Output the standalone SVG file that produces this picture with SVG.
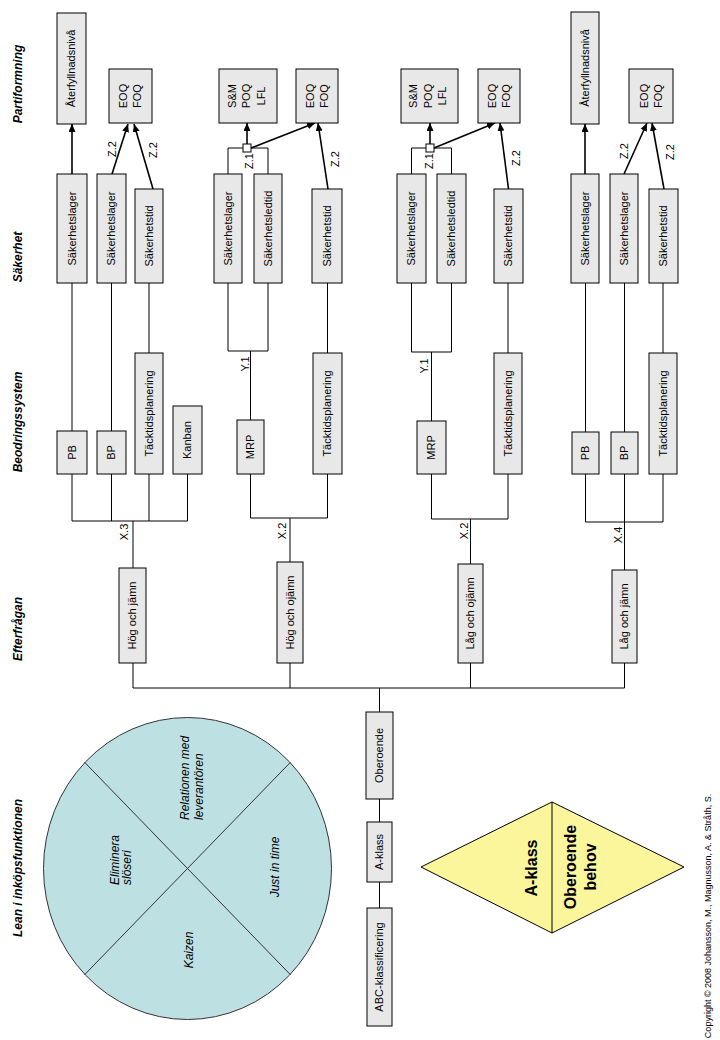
<svg xmlns="http://www.w3.org/2000/svg" width="720" height="1040" viewBox="0 0 720 1040">
<style>
text{font-family:"Liberation Sans",Arial,sans-serif;font-size:11px;fill:#000}
.box{fill:#e8e8e8;stroke:#000;stroke-width:1}
.ln{stroke:#000;stroke-width:1;fill:none}
.ar{stroke:#000;stroke-width:1.6;fill:none;marker-end:url(#ah)}
.hd{font-weight:bold;font-style:italic;font-size:12px}
.c{text-anchor:middle}
.it{font-style:italic;font-size:12px}
.big{font-weight:bold;font-size:16px;text-anchor:middle}
</style>
<defs>
<marker id="ah" markerUnits="userSpaceOnUse" markerWidth="9" markerHeight="7" refX="8" refY="3.5" orient="auto">
<path d="M0,0 L8,3.5 L0,7 z" fill="#000"/>
</marker>
</defs>
<rect width="720" height="1040" fill="#fff"/>

<g id="headers">
<text class="hd c" transform="translate(18,84) rotate(-90)" dy=".35em">Partiformning</text>
<text class="hd c" transform="translate(18,257) rotate(-90)" dy=".35em">Säkerhet</text>
<text class="hd c" transform="translate(18,422) rotate(-90)" dy=".35em">Beodringssystem</text>
<text class="hd c" transform="translate(18,629) rotate(-90)" dy=".35em">Efterfrågan</text>
<text class="hd c" transform="translate(18,868) rotate(-90)" dy=".35em">Lean i inköpsfunktionen</text>
</g>

<g id="connectors">
<!-- group 1 -->
<path class="ln" d="M72,283V431 M111.5,283V431 M149,283V353"/>
<path class="ln" d="M72,474V521 M111.5,474V521 M149,474V521 M187.5,474V521 M72,521H187.5 M133,521V568 M133,663V688"/>
<path class="ar" d="M72,174L72,124"/>
<path class="ar" d="M112,174L128,124"/>
<path class="ar" d="M153,189L134,124"/>
<!-- group 2 -->
<path class="ln" d="M228,283V351 M268,283V351 M228,351H268 M250.5,351V420 M327.5,283V353"/>
<path class="ln" d="M250.5,474V518 M327.5,474V518 M250.5,518H327.5 M290,518V562 M290,663V688"/>
<path class="ln" d="M228,174V148H268V174"/>
<path class="ar" d="M247,144L247,123"/>
<path class="ar" d="M251,148L315,123"/>
<path class="ar" d="M328,189L318,123"/>
<rect x="243" y="144" width="8" height="8" fill="#fff" stroke="#000"/>
<!-- group 3 -->
<path class="ln" d="M411.5,283V352 M451.5,283V352 M411.5,352H451.5 M431.5,352V421 M508,283V353"/>
<path class="ln" d="M431.5,474V519 M508,474V519 M431.5,519H508 M470.5,519V564 M470.5,663V688"/>
<path class="ln" d="M411.5,174V148H451.5V174"/>
<path class="ar" d="M430,144L430,123"/>
<path class="ar" d="M434,148L495,123"/>
<path class="ar" d="M508.5,189L500,123"/>
<rect x="426" y="144" width="8" height="8" fill="#fff" stroke="#000"/>
<!-- group 4 -->
<path class="ln" d="M585.5,283V432 M624.5,283V432 M663,283V353"/>
<path class="ln" d="M585.5,474V522 M624.5,474V522 M663,474V522 M585.5,522H663 M624.5,522V570 M624.5,663V688"/>
<path class="ar" d="M585,174L585,124"/>
<path class="ar" d="M624,174L647,123"/>
<path class="ar" d="M664,189L652,123"/>
<!-- trunk -->
<path class="ln" d="M133,688H624.5 M379.5,688V712 M379.5,799V822 M379.5,882V908"/>
</g>

<g id="connector-labels">
<text class="c" transform="translate(112,149) rotate(-90)" dy=".35em">Z.2</text>
<text class="c" transform="translate(153,150) rotate(-90)" dy=".35em">Z.2</text>
<text class="c" transform="translate(249,161) rotate(-90)" dy=".35em">Z.1</text>
<text class="c" transform="translate(335,159) rotate(-90)" dy=".35em">Z.2</text>
<text class="c" transform="translate(429,161) rotate(-90)" dy=".35em">Z.1</text>
<text class="c" transform="translate(516,158) rotate(-90)" dy=".35em">Z.2</text>
<text class="c" transform="translate(624,151) rotate(-90)" dy=".35em">Z.2</text>
<text class="c" transform="translate(670,152) rotate(-90)" dy=".35em">Z.2</text>
<text class="c" transform="translate(245,364) rotate(-90)" dy=".35em">Y.1</text>
<text class="c" transform="translate(424,366) rotate(-90)" dy=".35em">Y.1</text>
<text class="c" transform="translate(124,532) rotate(-90)" dy=".35em">X.3</text>
<text class="c" transform="translate(282,531) rotate(-90)" dy=".35em">X.2</text>
<text class="c" transform="translate(464,531) rotate(-90)" dy=".35em">X.2</text>
<text class="c" transform="translate(618,535) rotate(-90)" dy=".35em">X.4</text>
</g>

<!-- group 1 nodes -->
<g id="g1-aterfyllnad"><rect class="box" x="57" y="13" width="29" height="111"/><text class="c" transform="translate(71.5,68.5) rotate(-90)" dy=".35em">Återfyllnadsnivå</text></g>
<g id="g1-eoq"><rect class="box" x="109" y="69" width="43" height="54"/><text class="c" transform="translate(123.5,96) rotate(-90)" dy=".35em">EOQ</text><text class="c" transform="translate(137.5,96) rotate(-90)" dy=".35em">FOQ</text></g>
<g id="g1-sl1"><rect class="box" x="57" y="174" width="30" height="109"/><text class="c" transform="translate(72,228.5) rotate(-90)" dy=".35em">Säkerhetslager</text></g>
<g id="g1-sl2"><rect class="box" x="97" y="174" width="29" height="109"/><text class="c" transform="translate(111.5,228.5) rotate(-90)" dy=".35em">Säkerhetslager</text></g>
<g id="g1-st"><rect class="box" x="135" y="189" width="28" height="94"/><text class="c" transform="translate(149,236) rotate(-90)" dy=".35em">Säkerhetstid</text></g>
<g id="g1-pb"><rect class="box" x="57" y="431" width="30" height="43"/><text class="c" transform="translate(72,452.5) rotate(-90)" dy=".35em">PB</text></g>
<g id="g1-bp"><rect class="box" x="97" y="431" width="29" height="43"/><text class="c" transform="translate(111.5,452.5) rotate(-90)" dy=".35em">BP</text></g>
<g id="g1-tack"><rect class="box" x="135" y="353" width="28" height="121"/><text class="c" transform="translate(149,413.5) rotate(-90)" dy=".35em">Täcktidsplanering</text></g>
<g id="g1-kanban"><rect class="box" x="173" y="406" width="29" height="68"/><text class="c" transform="translate(187.5,440) rotate(-90)" dy=".35em">Kanban</text></g>
<g id="g1-demand"><rect class="box" x="119" y="568" width="27" height="95"/><text class="c" transform="translate(132.5,615.5) rotate(-90)" dy=".35em">Hög och jämn</text></g>

<!-- group 2 nodes -->
<g id="g2-smpoq"><rect class="box" x="219" y="69" width="58" height="54"/><text class="c" transform="translate(232,96) rotate(-90)" dy=".35em">S&amp;M</text><text class="c" transform="translate(246.5,96) rotate(-90)" dy=".35em">POQ</text><text class="c" transform="translate(261,96) rotate(-90)" dy=".35em">LFL</text></g>
<g id="g2-eoq"><rect class="box" x="296" y="69" width="42" height="54"/><text class="c" transform="translate(310,96) rotate(-90)" dy=".35em">EOQ</text><text class="c" transform="translate(324,96) rotate(-90)" dy=".35em">FOQ</text></g>
<g id="g2-sl"><rect class="box" x="214" y="174" width="28" height="109"/><text class="c" transform="translate(228,228.5) rotate(-90)" dy=".35em">Säkerhetslager</text></g>
<g id="g2-slt"><rect class="box" x="254" y="174" width="28" height="109"/><text class="c" transform="translate(268,228.5) rotate(-90)" dy=".35em">Säkerhetsledtid</text></g>
<g id="g2-st"><rect class="box" x="312" y="189" width="30" height="94"/><text class="c" transform="translate(327,236) rotate(-90)" dy=".35em">Säkerhetstid</text></g>
<g id="g2-mrp"><rect class="box" x="237" y="420" width="27" height="54"/><text class="c" transform="translate(250.5,447) rotate(-90)" dy=".35em">MRP</text></g>
<g id="g2-tack"><rect class="box" x="313" y="353" width="29" height="121"/><text class="c" transform="translate(327.5,413.5) rotate(-90)" dy=".35em">Täcktidsplanering</text></g>
<g id="g2-demand"><rect class="box" x="277" y="562" width="26" height="101"/><text class="c" transform="translate(290,612.5) rotate(-90)" dy=".35em">Hög och ojämn</text></g>

<!-- group 3 nodes -->
<g id="g3-smpoq"><rect class="box" x="401" y="69" width="57" height="54"/><text class="c" transform="translate(413.5,96) rotate(-90)" dy=".35em">S&amp;M</text><text class="c" transform="translate(428,96) rotate(-90)" dy=".35em">POQ</text><text class="c" transform="translate(442.5,96) rotate(-90)" dy=".35em">LFL</text></g>
<g id="g3-eoq"><rect class="box" x="478" y="69" width="42" height="54"/><text class="c" transform="translate(492,96) rotate(-90)" dy=".35em">EOQ</text><text class="c" transform="translate(506,96) rotate(-90)" dy=".35em">FOQ</text></g>
<g id="g3-sl"><rect class="box" x="397" y="174" width="29" height="109"/><text class="c" transform="translate(411.5,228.5) rotate(-90)" dy=".35em">Säkerhetslager</text></g>
<g id="g3-slt"><rect class="box" x="437" y="174" width="29" height="109"/><text class="c" transform="translate(451.5,228.5) rotate(-90)" dy=".35em">Säkerhetsledtid</text></g>
<g id="g3-st"><rect class="box" x="494" y="189" width="29" height="94"/><text class="c" transform="translate(508.5,236) rotate(-90)" dy=".35em">Säkerhetstid</text></g>
<g id="g3-mrp"><rect class="box" x="417" y="421" width="29" height="53"/><text class="c" transform="translate(431.5,447.5) rotate(-90)" dy=".35em">MRP</text></g>
<g id="g3-tack"><rect class="box" x="494" y="353" width="28" height="121"/><text class="c" transform="translate(508,413.5) rotate(-90)" dy=".35em">Täcktidsplanering</text></g>
<g id="g3-demand"><rect class="box" x="458" y="564" width="25" height="99"/><text class="c" transform="translate(470.5,613.5) rotate(-90)" dy=".35em">Låg och ojämn</text></g>

<!-- group 4 nodes -->
<g id="g4-aterfyllnad"><rect class="box" x="571" y="12" width="28" height="112"/><text class="c" transform="translate(585,68) rotate(-90)" dy=".35em">Återfyllnadsnivå</text></g>
<g id="g4-eoq"><rect class="box" x="629" y="69" width="44" height="54"/><text class="c" transform="translate(644,96) rotate(-90)" dy=".35em">EOQ</text><text class="c" transform="translate(658,96) rotate(-90)" dy=".35em">FOQ</text></g>
<g id="g4-sl1"><rect class="box" x="571" y="174" width="28" height="109"/><text class="c" transform="translate(585,228.5) rotate(-90)" dy=".35em">Säkerhetslager</text></g>
<g id="g4-sl2"><rect class="box" x="610" y="174" width="28" height="109"/><text class="c" transform="translate(624,228.5) rotate(-90)" dy=".35em">Säkerhetslager</text></g>
<g id="g4-st"><rect class="box" x="649" y="189" width="29" height="94"/><text class="c" transform="translate(663.5,236) rotate(-90)" dy=".35em">Säkerhetstid</text></g>
<g id="g4-pb"><rect class="box" x="572" y="432" width="27" height="42"/><text class="c" transform="translate(585.5,453) rotate(-90)" dy=".35em">PB</text></g>
<g id="g4-bp"><rect class="box" x="611" y="432" width="27" height="42"/><text class="c" transform="translate(624.5,453) rotate(-90)" dy=".35em">BP</text></g>
<g id="g4-tack"><rect class="box" x="649" y="353" width="28" height="121"/><text class="c" transform="translate(663,413.5) rotate(-90)" dy=".35em">Täcktidsplanering</text></g>
<g id="g4-demand"><rect class="box" x="612" y="570" width="25" height="93"/><text class="c" transform="translate(624.5,616.5) rotate(-90)" dy=".35em">Låg och jämn</text></g>

<!-- trunk nodes -->
<g id="oberoende"><rect class="box" x="366" y="712" width="27" height="87"/><text class="c" transform="translate(379.5,755.5) rotate(-90)" dy=".35em">Oberoende</text></g>
<g id="aklass"><rect class="box" x="367" y="822" width="25" height="60"/><text class="c" transform="translate(379.5,852) rotate(-90)" dy=".35em">A-klass</text></g>
<g id="abc"><rect class="box" x="367" y="908" width="25" height="118"/><text class="c" transform="translate(379.5,967) rotate(-90)" dy=".35em">ABC-klassificering</text></g>

<g id="lean-circle">
<ellipse cx="187.5" cy="868.5" rx="144" ry="151" fill="#bde0e3" stroke="#333" stroke-width="1"/>
<path d="M84.5,762.2L290.5,974.8 M290.5,762.2L84.5,974.8" stroke="#333" stroke-width="1" fill="none"/>
<text class="it" transform="translate(189,820) rotate(-90)">Relationen med</text>
<text class="it" transform="translate(203,820) rotate(-90)">leverantören</text>
<text class="it" transform="translate(119,885) rotate(-90)">Eliminera</text>
<text class="it" transform="translate(131,885) rotate(-90)">slöseri</text>
<text class="it c" transform="translate(279,867) rotate(-90)">Just in time</text>
<text class="it c" transform="translate(193,950) rotate(-90)">Kaizen</text>
</g>

<g id="diamond">
<polygon points="421,867 552,802 684,867 552,933" fill="#fbf59c" stroke="#000" stroke-width="1"/>
<line x1="552" y1="802" x2="552" y2="933" stroke="#000" stroke-width="1"/>
<text class="big" transform="translate(531,868) rotate(-90)" dy=".35em">A-klass</text>
<text class="big" transform="translate(570,867) rotate(-90)" dy=".35em">Oberoende</text>
<text class="big" transform="translate(590,867) rotate(-90)" dy=".35em">behov</text>
</g>

<text class="c" style="font-size:9px" transform="translate(711,916) rotate(-90)">Copyright © 2008 Johansson, M., Magnusson, A. &amp; Stråth, S.</text>
</svg>
